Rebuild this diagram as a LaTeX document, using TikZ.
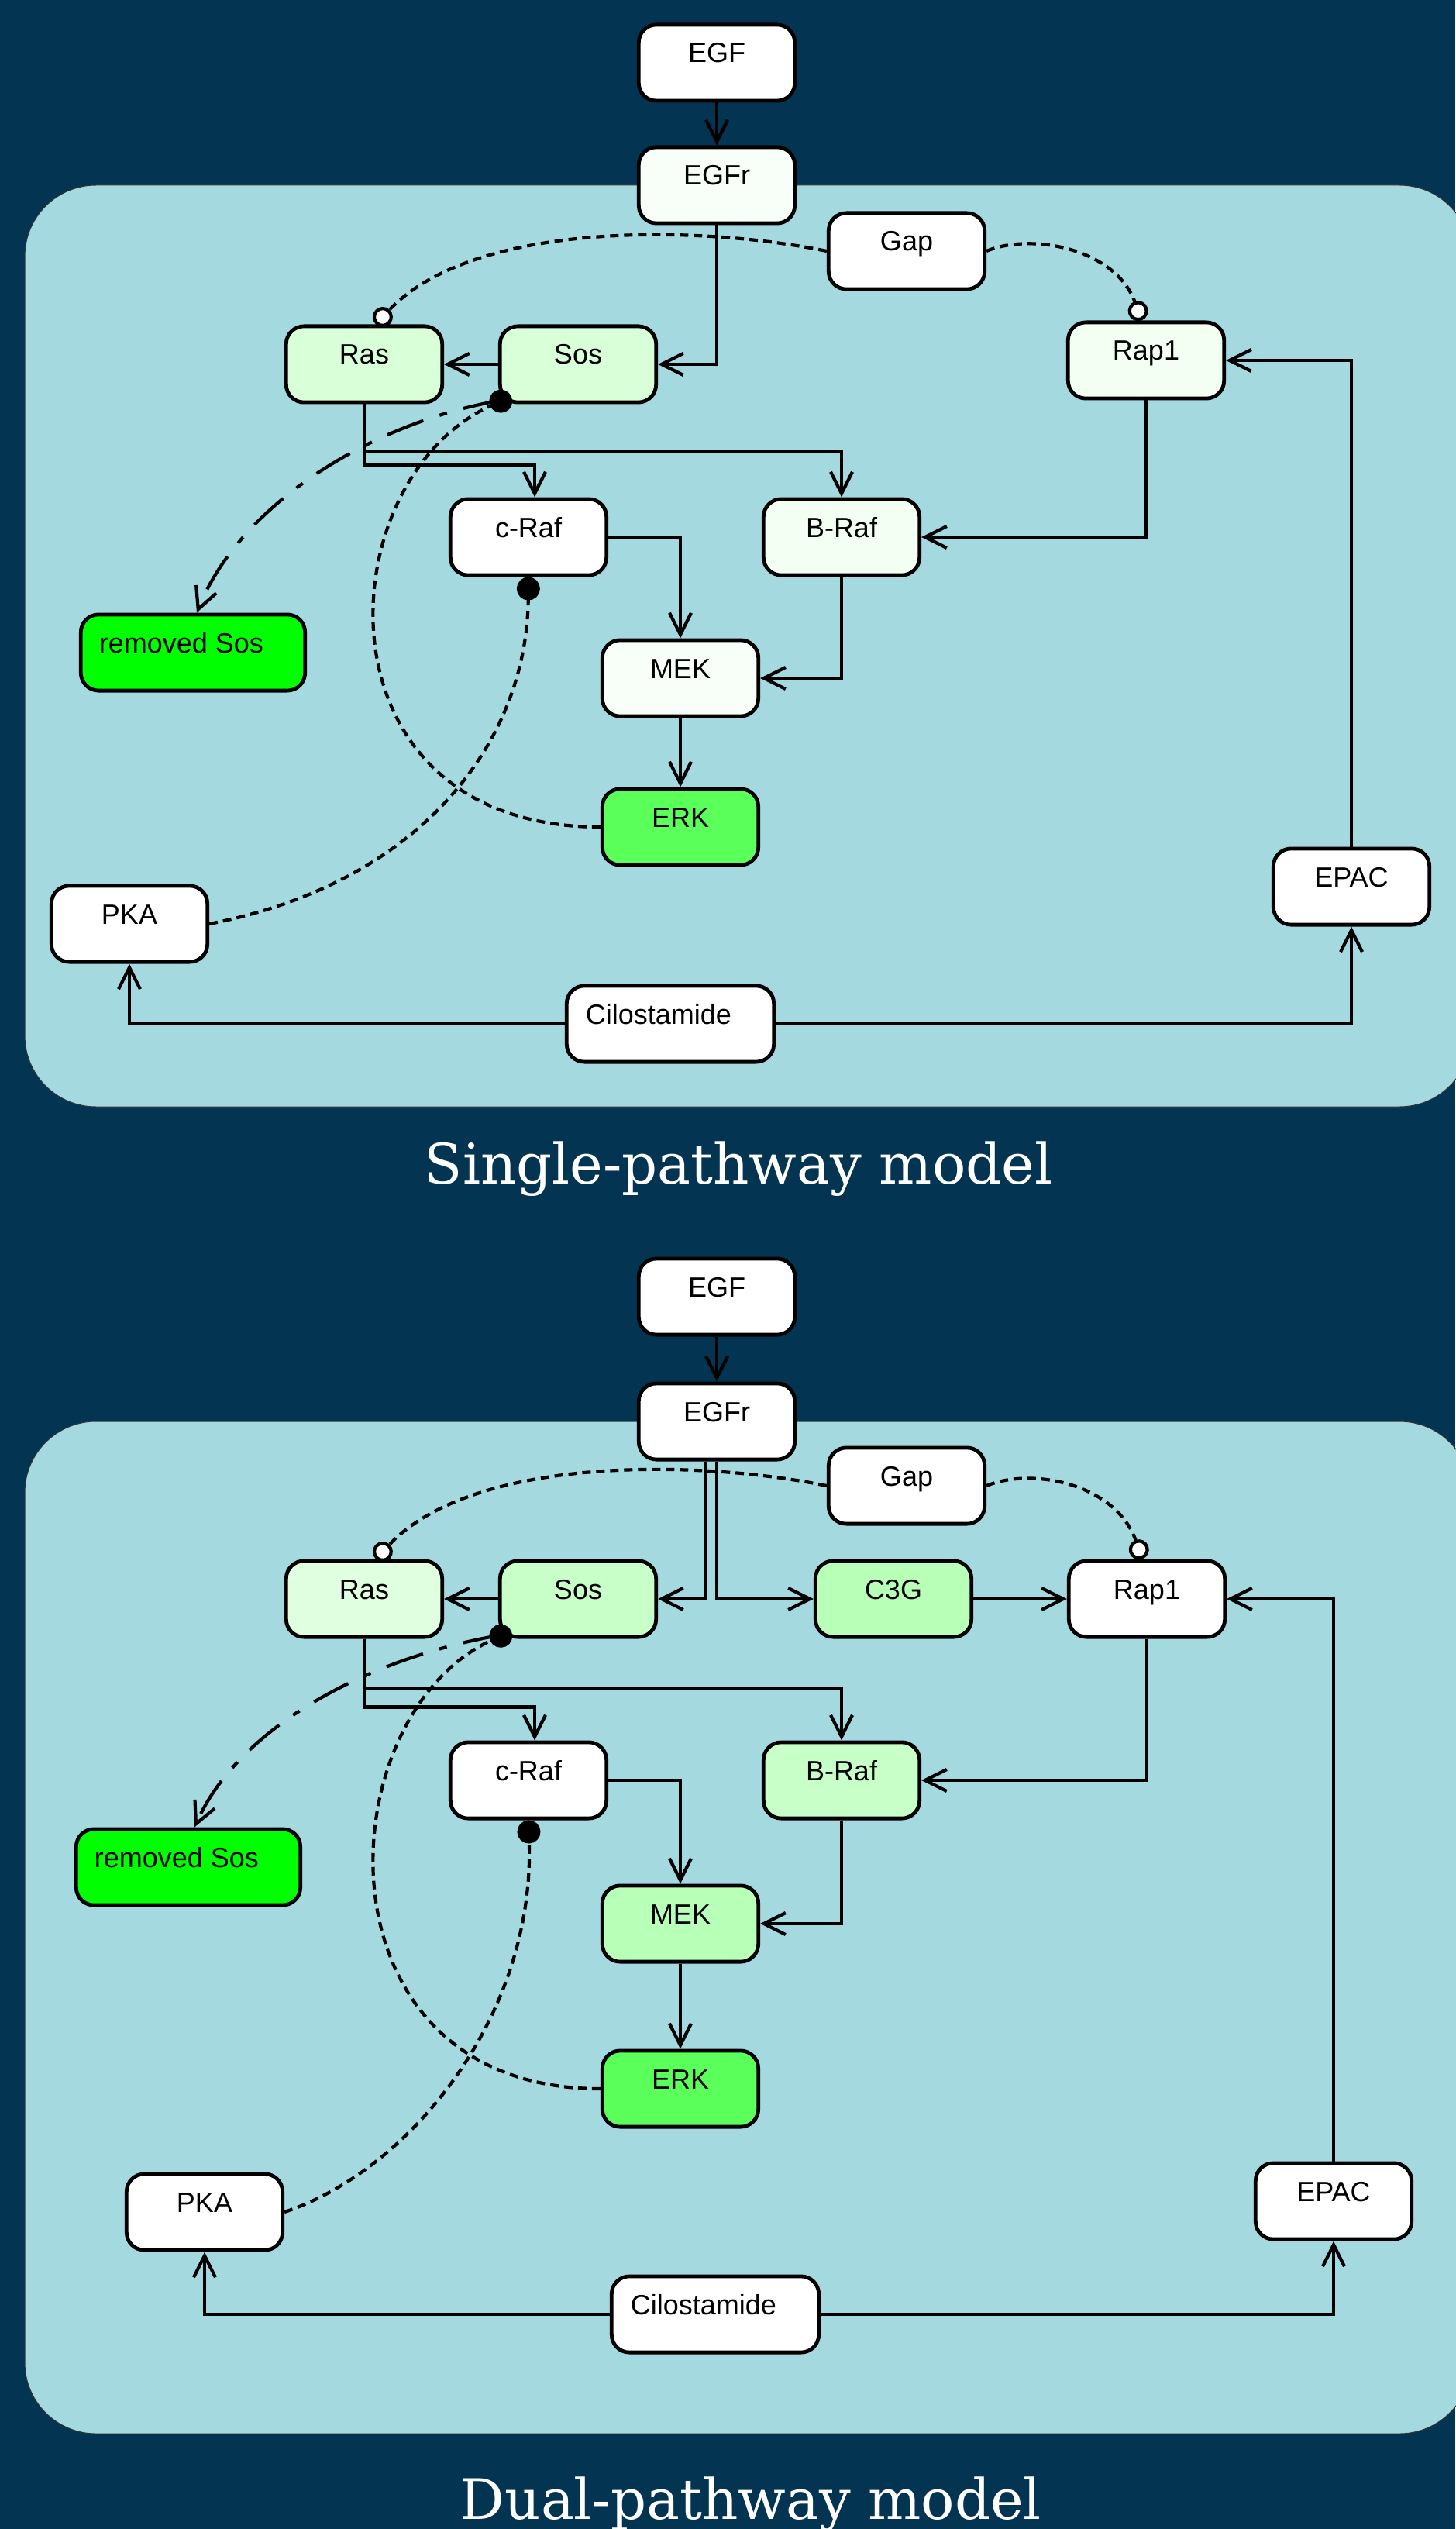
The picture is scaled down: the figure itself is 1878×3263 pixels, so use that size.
\documentclass[tikz,border=0pt]{standalone}
\usepackage{fontspec}
\setmainfont{Liberation Sans}
\newfontfamily\titlefont{DejaVu Serif}
\usetikzlibrary{arrows.meta}
\definecolor{bgc}{RGB}{3,52,82}
\definecolor{panelc}{RGB}{164,217,224}
\definecolor{rasA}{RGB}{217,255,217}
\definecolor{tintA}{RGB}{248,255,248}
\definecolor{rapA}{RGB}{243,255,243}
\definecolor{rasB}{RGB}{224,255,224}
\definecolor{sosB}{RGB}{200,255,200}
\definecolor{c3gB}{RGB}{184,255,184}
\definecolor{erkc}{RGB}{90,255,90}
\definecolor{remc}{RGB}{0,255,0}
\tikzset{
  box/.style={draw=black, line width=2.4pt, rounded corners=11.5pt,
    minimum width=100.7pt, minimum height=49.1pt, inner sep=0pt,
    text height=6pt, text depth=6pt, fill=white,
    font=\fontsize{18pt}{20pt}\selectfont},
  conn/.style={line width=2.1pt, -{Straight Barb[length=14pt,width=14pt]}},
  inhib/.style={line width=2.1pt, dash pattern=on 5.5pt off 3.5pt,
    -{Circle[length=15pt]}},
  gapinh/.style={line width=2.1pt, dash pattern=on 5.5pt off 3.5pt,
    -{Circle[length=13pt,fill=white]}},
  dashdot/.style={line width=2.1pt, dash pattern=on 25pt off 11pt on 5pt off 11pt,
    -{Straight Barb[length=14pt,width=14pt]}},
  panel/.style={fill=panelc, draw=black!80, line width=0.5pt, rounded corners=46pt},
  title/.style={text=white, anchor=base, inner sep=0pt,
    font=\titlefont\fontsize{36pt}{40pt}\selectfont}
}
\begin{document}
\begin{tikzpicture}[x=0.5pt,y=-0.5pt]
\useasboundingbox (0,0) rectangle (1878,3263);
\fill[bgc] (0,0) rectangle (1878,3263);

% ---------------- Single-pathway model ----------------
\draw[panel] (32,239) rectangle (1898,1428);

\node[box] (egf1) at (925,81) {EGF};
\node[box, fill=tintA] (egfr1) at (925,239) {EGFr};
\node[box] (gap1) at (1170,324) {Gap};
\node[box, fill=rasA] (ras1) at (470,470) {Ras};
\node[box, fill=rasA] (sos1) at (746,470) {Sos};
\node[box, fill=rapA] (rap1) at (1479,465) {Rap1};
\node[box] (craf1) at (682,693) {c-Raf};
\node[box, fill=rapA] (braf1) at (1086,693) {B-Raf};
\node[box, fill=remc, minimum width=144.7pt] (rem1) at (249,842) {removed Sos\hspace*{15pt}};
\node[box, fill=tintA] (mek1) at (878,875) {MEK};
\node[box, fill=erkc] (erk1) at (878,1067) {ERK};
\node[box] (pka1) at (167,1192) {PKA};
\node[box] (epac1) at (1744,1144) {EPAC};
\node[box, minimum width=133.7pt] (cilo1) at (865,1321) {Cilostamide\hspace*{15pt}};

\draw[conn] (egf1.south) -- (egfr1.north);
\draw[conn] (egfr1.south) |- (sos1.east);
\draw[conn] (sos1.west) -- (ras1.east);
\draw[conn] (ras1.south) -- ++(0,61) -| (braf1.north);
\draw[conn] (ras1.south) -- ++(0,79) -| ([xshift=4pt]craf1.north);
\draw[conn] (craf1.east) -| (mek1.north);
\draw[conn] (braf1.south) |- (mek1.east);
\draw[conn] (mek1.south) -- (erk1.north);
\draw[conn] (rap1.south) |- (braf1.east);
\draw[conn] (epac1.north) |- (rap1.east);
\draw[conn] (cilo1.west) -| (pka1.south);
\draw[conn] (cilo1.east) -| (epac1.south);

\draw[gapinh] (gap1.west) .. controls (900,290) and (610,285) .. ([xshift=7.5pt]ras1.north);
\draw[gapinh] (gap1.east) .. controls (1330,300) and (1440,320) .. ([xshift=-3pt]rap1.north);
\draw[dashdot] ([shift={(4,-5)}]sos1.south west) .. controls (480,545) and (310,650) .. ([xshift=2.5pt]rem1.north);
\draw[inhib] (erk1.west) .. controls (400,1067) and (420,620) .. ([shift={(17,-10)}]sos1.south west);
\draw[inhib] (pka1.east) .. controls (540,1140) and (680,960) .. (craf1.south);

\node[title] (t1) at (953,1527) {Single-pathway model};

% ---------------- Dual-pathway model ----------------
\draw[panel] (32,1834) rectangle (1898,3140);

\node[box] (egf2) at (925,1673) {EGF};
\node[box] (egfr2) at (925,1834) {EGFr};
\node[box] (gap2) at (1170,1917) {Gap};
\node[box, fill=rasB] (ras2) at (470,2063) {Ras};
\node[box, fill=sosB] (sos2) at (746,2063) {Sos};
\node[box, fill=c3gB] (c3g2) at (1153,2063) {C3G};
\node[box] (rap2) at (1480,2063) {Rap1};
\node[box] (craf2) at (682,2297) {c-Raf};
\node[box, fill=sosB] (braf2) at (1086,2297) {B-Raf};
\node[box, fill=remc, minimum width=144.7pt] (rem2) at (243,2409) {removed Sos\hspace*{15pt}};
\node[box, fill=c3gB] (mek2) at (878,2482) {MEK};
\node[box, fill=erkc] (erk2) at (878,2695) {ERK};
\node[box] (pka2) at (264,2854) {PKA};
\node[box] (epac2) at (1721,2840) {EPAC};
\node[box, minimum width=133.7pt] (cilo2) at (923,2986) {Cilostamide\hspace*{15pt}};

\draw[conn] (egf2.south) -- (egfr2.north);
\draw[conn] ([xshift=-7pt]egfr2.south) |- (sos2.east);
\draw[conn] (egfr2.south) |- (c3g2.west);
\draw[conn] (c3g2.east) -- (rap2.west);
\draw[conn] (sos2.west) -- (ras2.east);
\draw[conn] (ras2.south) -- ++(0,64) -| (braf2.north);
\draw[conn] (ras2.south) -- ++(0,88) -| ([xshift=4pt]craf2.north);
\draw[conn] (craf2.east) -| (mek2.north);
\draw[conn] (braf2.south) |- (mek2.east);
\draw[conn] (mek2.south) -- (erk2.north);
\draw[conn] (rap2.south) |- (braf2.east);
\draw[conn] (epac2.north) |- (rap2.east);
\draw[conn] (cilo2.west) -| (pka2.south);
\draw[conn] (cilo2.east) -| (epac2.south);

\draw[gapinh] (gap2.west) .. controls (900,1883) and (610,1878) .. ([xshift=7.5pt]ras2.north);
\draw[gapinh] (gap2.east) .. controls (1330,1893) and (1440,1913) .. ([xshift=-3pt]rap2.north);
\draw[dashdot] ([shift={(4,-5)}]sos2.south west) .. controls (480,2138) and (310,2225) .. ([xshift=4pt]rem2.north);
\draw[inhib] (erk2.west) .. controls (400,2695) and (420,2215) .. ([shift={(17,-10)}]sos2.south west);
\draw[inhib] (pka2.east) .. controls (530,2800) and (690,2600) .. (craf2.south);

\node[title] (t2) at (969,3250) {Dual-pathway model};
\end{tikzpicture}
\end{document}
